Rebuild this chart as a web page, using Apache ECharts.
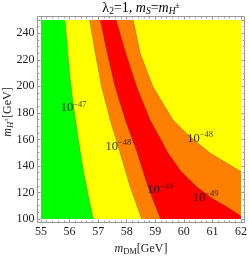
<!DOCTYPE html>
<html><head><meta charset="utf-8">
<script src="https://cdn.jsdelivr.net/npm/echarts@6/dist/echarts.min.js"></script>
<style>html,body{margin:0;padding:0;background:#fff}#c{width:249px;height:256px}</style>
</head><body><div id="c"></div>
<script>
// axis ranges & ticks
const xRange = [55, 62];
const yRange = [100, 250];
const xInterval = 1;
const yInterval = 20;

// contour boundaries, [mDM, mH±]
const c47  = [[55.84,250],[55.92,231],[55.99,212.3],[56.09,193],[56.21,174.6],[56.34,155.5],[56.48,136.9],[56.65,118],[56.83,100]];
const c48L = [[56.70,250],[56.90,225],[57.12,199.7],[57.42,174.6],[57.77,149.7],[58.12,124.3],[58.52,100]];
const c49L = [[57.07,250],[57.32,225],[57.59,199.7],[57.95,174.6],[58.37,149.7],[58.74,124.3],[59.18,100]];
const c49R = [[57.63,250],[57.97,225],[58.35,199.7],[58.82,174.6],[59.45,149.7],[59.90,136],[60.45,124.3],[61.00,115.5],[61.50,109.3],[62,102.3]];
const c48R = [[58.23,250],[58.47,224.9],[58.92,199.7],[59.62,174.6],[60.22,162],[60.92,149.7],[61.72,139.4],[62,135.7]];

// contour labels
const labelPos = [[56.14,183.7],[57.71,154.5],[60.57,160.8],[59.17,121.7],[60.76,116.2]];
const labelExp = ['\u221247','\u221248','\u221248','\u221249','\u221249'];

const FONT = 'Liberation Serif';
const chart = echarts.init(document.getElementById('c'), null, {renderer:'canvas'});

function poly(points, color) {
  return {
    type: 'custom', silent: true, clip: true, data: [[xRange[0], yRange[0]]],
    renderItem: (params, api) => ({
      type: 'polygon',
      shape: { points: points.map(p => api.coord(p)) },
      style: { fill: color }
    }),
    z: 1
  };
}
function line(points) {
  return { type: 'line', data: points, showSymbol: false, silent: true, z: 2,
    lineStyle: { width: 0.7, color: 'rgba(60,60,0,0.4)' } };
}

const full = [[xRange[0],yRange[1]],[xRange[1],yRange[1]],[xRange[1],yRange[0]],[xRange[0],yRange[0]]];
const green = [[xRange[0],yRange[1]]].concat(c47, [[xRange[0],yRange[0]]]);
const orange = c48L.concat([[xRange[1],yRange[0]]], c48R.slice().reverse());
const red = c49L.concat([[xRange[1],yRange[0]]], c49R.slice().reverse());

const axisCommon = {
  type: 'value', offset: 3.5,
  axisLine: { show: false },
  splitLine: { show: false },
  axisTick: { show: true, inside: true, length: 3, lineStyle: { color: '#999', width: 1 } },
  minorTick: { show: true, length: 1.8, lineStyle: { color: '#999', width: 1 } },
};
const tickLabel = { color: '#222', fontFamily: FONT, fontSize: 12, margin: 3 };

const nameRich = {
  i: { fontFamily: FONT, fontStyle: 'italic', fontSize: 12, fill: '#222', color: '#222' },
  n: { fontFamily: FONT, fontSize: 12, fill: '#222', color: '#222' },
  sub: { fontFamily: FONT, fontStyle: 'italic', fontSize: 8.5, fill: '#222', color: '#222', padding: [6,0,0,0] },
  subn: { fontFamily: FONT, fontSize: 8.5, fill: '#222', color: '#222', padding: [6,0,0,0] },
  sup: { fontFamily: FONT, fontSize: 7, fill: '#222', color: '#222', padding: [0,0,4,0] }
};

chart.setOption({
  animation: false,
  grid: { left: 41, right: 8, top: 20, bottom: 37, outerBoundsMode: 'none', containLabel: false },
  xAxis: [
    Object.assign({}, axisCommon, { min: xRange[0], max: xRange[1], interval: xInterval, position: 'bottom',
      minorTick: Object.assign({}, axisCommon.minorTick, { splitNumber: 5 }),
      axisLabel: tickLabel,
      name: '{i|m}{subn|DM}{n|[GeV]}', nameLocation: 'middle', nameGap: 18,
      nameTextStyle: { rich: nameRich } }),
    Object.assign({}, axisCommon, { min: xRange[0], max: xRange[1], interval: xInterval, position: 'top',
      minorTick: Object.assign({}, axisCommon.minorTick, { splitNumber: 5 }),
      axisLabel: { show: false } })
  ],
  yAxis: [
    Object.assign({}, axisCommon, { min: yRange[0], max: yRange[1], interval: yInterval, position: 'left',
      minorTick: Object.assign({}, axisCommon.minorTick, { splitNumber: 4 }),
      axisLabel: Object.assign({}, tickLabel, { showMaxLabel: false }) }),
    Object.assign({}, axisCommon, { min: yRange[0], max: yRange[1], interval: yInterval, position: 'right',
      minorTick: Object.assign({}, axisCommon.minorTick, { splitNumber: 4 }),
      axisLabel: { show: false } })
  ],
  graphic: [
    { type: 'rect', shape: { x: 37.5, y: 16.5, width: 207, height: 206 }, style: { fill: 'none', stroke: '#999', lineWidth: 1 }, z: 10, silent: true },
    { type: 'text', x: 8, y: 112, rotation: Math.PI / 2, z: 10, silent: true,
      style: { text: '{i|m}{sub|H}{sup|\u00b1}{n|[GeV]}', align: 'center', verticalAlign: 'middle', rich: nameRich } },
    { type: 'text', x: 141, y: 0, z: 10, silent: true,
      style: { text: '{n|\u03bb}{s|2}{n|=1, }{i|m}{sub|S}{n|=}{i|m}{sub|H}{sup|\u00b1}', align: 'center', verticalAlign: 'top',
        rich: {
          n: { fontFamily: FONT, fontSize: 14, fill: '#000' },
          i: { fontFamily: FONT, fontStyle: 'italic', fontSize: 14, fill: '#000' },
          s: { fontFamily: FONT, fontSize: 9.5, fill: '#000', padding: [6,0,0,0] },
          sub: { fontFamily: FONT, fontStyle: 'italic', fontSize: 9.5, fill: '#000', padding: [6,0,0,0] },
          sup: { fontFamily: FONT, fontSize: 7.5, fill: '#000', padding: [0,0,4,0] }
        } } }
  ],
  series: [
    poly(full, '#ffff00'),
    poly(green, '#00ff00'),
    poly(orange, '#ff8000'),
    poly(red, '#ff0000'),
    line(c47), line(c48L), line(c49L), line(c49R), line(c48R),
    {
      type: 'scatter', symbolSize: 0, silent: true, z: 5,
      data: labelPos.map((p, k) => ({ value: p, name: labelExp[k] })),
      label: { show: true, position: 'inside', formatter: p => '{b|10}{s|' + p.name + '}',
        rich: { b: { fontFamily: FONT, fontSize: 12.5, color: '#000' },
                s: { fontFamily: FONT, fontSize: 8.5, color: '#000', padding: [0,0,7,0] } } }
    }
  ]
});
</script></body></html>
